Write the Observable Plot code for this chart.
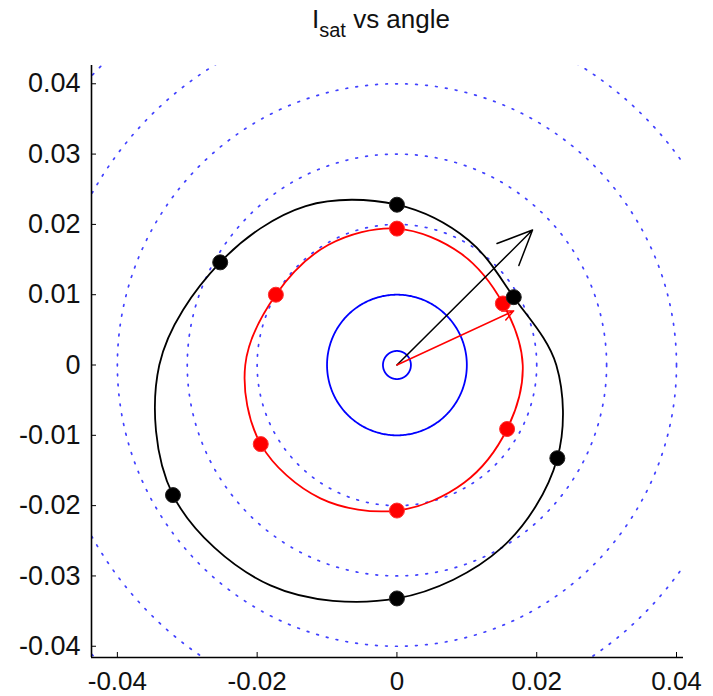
<!DOCTYPE html>
<html>
<head>
<meta charset="utf-8">
<script src="https://cdn.jsdelivr.net/npm/d3@7"></script>
<script src="https://cdn.jsdelivr.net/npm/@observablehq/plot@0.6"></script>
<style>
  html, body { margin: 0; padding: 0; background: #fff; }
  #wrap { position: relative; width: 713px; height: 696px; }
  #title { position: absolute; left: 312px; top: 6px; font-family: "Liberation Sans", Arial, sans-serif; font-size: 26px; line-height: 26px; color: #111; white-space: nowrap; }
  #title sub { font-size: 20px; vertical-align: -9px; line-height: 0; }
  #chart { position: absolute; left: 0; top: 44px; }
</style>
</head>
<body>
<div id="wrap">
  <div id="title">I<sub>sat</sub> vs angle</div>
  <div id="chart"></div>
</div>
<script>
// ---- data ----
const xTicks = [-0.04, -0.02, 0, 0.02, 0.04];
const yTicks = [-0.04, -0.03, -0.02, -0.01, 0, 0.01, 0.02, 0.03, 0.04];
const xDomain = [-0.0437, 0.0410];
const yDomain = [-0.0416, 0.0426];

// reference rings (radius)
const solidRadii = [0.002, 0.01];
const dottedRadii = [0.02, 0.03, 0.04, 0.05, 0.06];

// measured points (angle in degrees, radius)
const pointAngles = [30, 90, 150, 210, 270, 330];
const redPointR   = [0.0175, 0.0194, 0.0200, 0.0225, 0.0207, 0.0182];
const blackPointR = [0.0193, 0.0228, 0.0292, 0.0370, 0.0332, 0.0265];

// traced fitted curves (angle in degrees, radius)
const curveAngles = [0, 30, 60, 90, 120, 150, 180, 210, 240, 270, 300, 330];
const redCurveR   = [0.0180, 0.0175, 0.0183, 0.0194, 0.0197, 0.0200, 0.0217, 0.0225, 0.0219, 0.0207, 0.0193, 0.0182];
const blackCurveR = [0.0228, 0.0193, 0.0205, 0.0228, 0.0261, 0.0292, 0.0340, 0.0370, 0.0362, 0.0332, 0.0300, 0.0265];

// arrows from the origin
const arrowTipX = [0.0194, 0.0167];
const arrowTipY = [0.0192, 0.0077];
const arrowColor = ["black", "red"];
const arrowHead = [38, 12];

// ---- build tables ----
const rad = Math.PI / 180;
const polar = (a, r) => ({x: r * Math.cos(a * rad), y: r * Math.sin(a * rad)});
const ringSteps = d3.range(0, 361, 1);
const ring = (radii) => radii.flatMap(r => ringSteps.map(a => ({ring: r, ...polar(a, r)})));
const solidRings = ring(solidRadii);
const dottedRings = ring(dottedRadii);
const redCurve = curveAngles.map((a, i) => polar(a, redCurveR[i]));
const blackCurve = curveAngles.map((a, i) => polar(a, blackCurveR[i]));
const redPts = pointAngles.map((a, i) => polar(a, redPointR[i]));
const blackPts = pointAngles.map((a, i) => polar(a, blackPointR[i]));
const arrows = arrowTipX.map((x, i) => ({x1: 0, y1: 0, x2: x, y2: arrowTipY[i], c: arrowColor[i], h: arrowHead[i]}));

const fmt = d => String(+d.toFixed(2));

const chart = Plot.plot({
  width: 713,
  height: 652,
  marginLeft: 91,
  marginRight: 30,
  marginTop: 21,
  marginBottom: 39,
  style: {fontFamily: "'Liberation Sans', Arial, sans-serif", fontSize: "27px", color: "#111", background: "white", overflow: "visible"},
  x: {domain: xDomain},
  y: {domain: yDomain},
  marks: [
    Plot.line(dottedRings, {x: "x", y: "y", z: "ring", stroke: "#0000ff", strokeWidth: 1.7, strokeDasharray: "1.7,8.3", strokeOpacity: 0.75, clip: true}),
    Plot.line(solidRings, {x: "x", y: "y", z: "ring", stroke: "#0000ff", strokeWidth: 1.8}),
    Plot.line(redCurve, {x: "x", y: "y", stroke: "#ff0000", strokeWidth: 1.8, curve: "catmull-rom-closed"}),
    Plot.line(blackCurve, {x: "x", y: "y", stroke: "#000", strokeWidth: 1.8, curve: "catmull-rom-closed"}),
    ...arrows.map(d => Plot.arrow([d], {x1: "x1", y1: "y1", x2: "x2", y2: "y2", stroke: d.c, strokeWidth: 1.5, headLength: d.h, headAngle: 48})),
    Plot.dot(redPts, {x: "x", y: "y", r: 7.5, fill: "#ff0000", stroke: "#ff3030", strokeWidth: 1}),
    Plot.dot(blackPts, {x: "x", y: "y", r: 7.5, fill: "#000", stroke: "#222", strokeWidth: 1}),
    Plot.ruleX([xDomain[0]], {stroke: "#000", strokeWidth: 1.6}),
    Plot.ruleY([yDomain[0]], {stroke: "#000", strokeWidth: 1.6}),
    Plot.axisX({ticks: xTicks, tickSize: -5, text: null, stroke: "#000"}),
    Plot.axisY({ticks: yTicks, tickSize: -5, text: null, stroke: "#000"}),
    Plot.axisX({ticks: xTicks, tickSize: 0, tickPadding: 14, tickFormat: fmt, label: null, fill: "#111", fontSize: 26}),
    Plot.axisY({ticks: yTicks, tickSize: 0, tickPadding: 11, tickFormat: fmt, label: null, fill: "#111"})
  ]
});
document.getElementById("chart").appendChild(chart);
</script>
</body>
</html>
